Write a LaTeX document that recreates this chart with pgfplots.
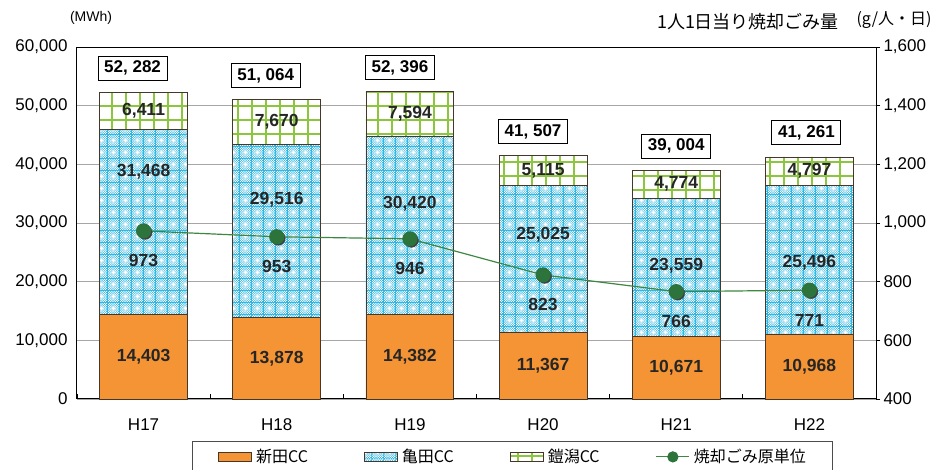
\documentclass[border=0pt]{standalone}
\usepackage{fontspec}
\setmainfont{Liberation Sans}
\newfontfamily\jp{Noto Sans CJK JP}
\usepackage{pgfplots}
\pgfplotsset{compat=1.18}
\usetikzlibrary{patterns,patterns.meta}

\definecolor{shinden}{RGB}{245,148,52}
\definecolor{kameda}{RGB}{35,180,228}
\definecolor{yoroi}{RGB}{140,198,63}
\definecolor{gline}{RGB}{60,135,65}
\definecolor{gmark}{RGB}{45,115,60}
\definecolor{edge}{RGB}{70,55,45}

% fine checker with small crosses
\pgfdeclarepatternformonly{checkcross}{\pgfpointorigin}{\pgfqpoint{12pt}{12pt}}{\pgfqpoint{12pt}{12pt}}{%
  \foreach \i in {0,1,2,3,4}{\foreach \j in {0,1,2,3,4}{%
    \pgfpathrectangle{\pgfpoint{\i*2.4pt}{\j*2.4pt}}{\pgfqpoint{1.2pt}{1.2pt}}%
    \pgfpathrectangle{\pgfpoint{\i*2.4pt+1.2pt}{\j*2.4pt+1.2pt}}{\pgfqpoint{1.2pt}{1.2pt}}%
  }}%
  \pgfpathrectangle{\pgfqpoint{4.2pt}{5.4pt}}{\pgfqpoint{3.6pt}{1.2pt}}%
  \pgfpathrectangle{\pgfqpoint{5.4pt}{4.2pt}}{\pgfqpoint{1.2pt}{3.6pt}}%
  \pgfusepath{fill}%
}

\pgfplotsset{
  barlegend/.style={legend image code/.code={\draw[##1] (0pt,-4.5pt) rectangle (33pt,4.5pt);}},
  linelegend/.style={legend image code/.code={\draw[##1, /tikz/sharp plot, mark repeat=2, mark phase=2]
    plot coordinates {(0pt,0pt) (16.5pt,0pt) (33pt,0pt)};}},
}

\newcommand{\fs}[1]{\fontsize{#1}{#1}\selectfont}

\begin{document}
\begin{tikzpicture}
% stacked electricity (MWh) per plant
\begin{axis}[
  name=ax, at={(0,0)}, anchor=south west,
  scale only axis, width=799pt, height=352pt,
  ybar stacked, bar width=0.66,
  xmin=-0.5, xmax=5.5, ymin=0, ymax=60000,
  xtick={0,...,5}, xticklabels={H17,H18,H19,H20,H21,H22},
  minor xtick={-0.5,0.5,...,5.5}, minor tick length=5pt,
  tick align=inside, xtick pos=left,
  major x tick style={draw=none},
  minor x tick style={black, line width=0.8pt},
  ytick={0,10000,...,60000}, ytick style={draw=none},
  scaled y ticks=false,
  /pgf/number format/fixed, /pgf/number format/1000 sep={,},
  /pgf/number format/assume math mode=true,
  tick label style={font=\fs{17}},
  xticklabel style={yshift=-16pt},
  yticklabel style={xshift=-6pt},
  ymajorgrids, major grid style={draw=gray!70, line width=0.9pt},
  axis line style={black, line width=1pt},
  legend columns=4,
  legend style={at={(axis description cs:0.1439,-0.1193)}, anchor=north west,
    draw=gray!60!black, line width=0.8pt, font=\jp\fs{16},
    inner xsep=26pt, inner ysep=6pt},
  legend cell align=left,
  clip=false,
]
\addplot[fill=shinden, draw=edge, line width=0.8pt, barlegend]
  coordinates {(0,14403) (1,13878) (2,14382) (3,11367) (4,10671) (5,10968)};
\addlegendentry{\makebox[108pt][l]{\hspace{2pt}新田CC}}
\addplot[fill=kameda, draw=edge, line width=0.8pt,
  postaction={pattern=checkcross, pattern color=white}, barlegend]
  coordinates {(0,31468) (1,29516) (2,30420) (3,25025) (4,23559) (5,25496)};
\addlegendentry{\makebox[108pt][l]{\hspace{2pt}亀田CC}}
\addplot[fill=white, draw=edge, line width=0.8pt,
  postaction={pattern={Hatch[distance=14pt,line width=2pt]}, pattern color=yoroi}, barlegend]
  coordinates {(0,6411) (1,7670) (2,7594) (3,5115) (4,4774) (5,4797)};
\addlegendentry{\makebox[108pt][l]{\hspace{2pt}鎧潟CC}}
\addlegendimage{gline, line width=1.2pt, mark=*, mark size=5pt,
  mark options={fill=gmark, draw=gmark}, linelegend}
\addlegendentry{\makebox[112pt][l]{\hspace{2pt}焼却ごみ原単位}}

% anchor points for the segment labels
\coordinate (s0) at (axis cs:0,7201);
\coordinate (s1) at (axis cs:1,6939);
\coordinate (s2) at (axis cs:2,7191);
\coordinate (s3) at (axis cs:3,5683);
\coordinate (s4) at (axis cs:4,5335);
\coordinate (s5) at (axis cs:5,5484);
\coordinate (k0) at (axis cs:0,38690);
\coordinate (k1) at (axis cs:1,33920);
\coordinate (k2) at (axis cs:2,33240);
\coordinate (k3) at (axis cs:3,27950);
\coordinate (k4) at (axis cs:4,22670);
\coordinate (k5) at (axis cs:5,23180);
\coordinate (y0) at (axis cs:0,49076);
\coordinate (y1) at (axis cs:1,47229);
\coordinate (y2) at (axis cs:2,48599);
\coordinate (y3) at (axis cs:3,38950);
\coordinate (y4) at (axis cs:4,36617);
\coordinate (y5) at (axis cs:5,38862);
% totals
\tikzset{tot/.style={font=\bfseries\fs{17}, draw=black, line width=1pt, fill=white,
  minimum width=69pt, minimum height=24pt, inner sep=2pt, yshift=24pt}}
\node[tot, xshift=-11pt] at (axis cs:0,52282) {52, 282};
\node[tot, xshift=-11pt] at (axis cs:1,51064) {51, 064};
\node[tot, xshift=-10pt] at (axis cs:2,52396) {52, 396};
\node[tot, xshift=-10pt] at (axis cs:3,41507) {41, 507};
\node[tot] at (axis cs:4,39004) {39, 004};
\node[tot, xshift=-3pt] at (axis cs:5,41261) {41, 261};
\end{axis}

% incinerated waste per person per day (g)
\begin{axis}[
  at={(0,0)}, anchor=south west,
  scale only axis, width=799pt, height=352pt,
  xmin=-0.5, xmax=5.5, ymin=400, ymax=1600,
  axis x line=none, axis y line*=right,
  ytick={400,600,...,1600},
  tick align=outside, major tick length=4pt,
  ytick style={black, line width=0.8pt},
  /pgf/number format/fixed, /pgf/number format/1000 sep={,},
  /pgf/number format/assume math mode=true,
  tick label style={font=\fs{17}},
  axis line style={black, line width=1pt},
  clip=false,
]
\addplot[only marks, mark=*, mark size=7pt, black!75,
  every mark/.append style={xshift=1.5pt, yshift=-1.5pt}]
  coordinates {(0,973) (1,953) (2,946) (3,823) (4,766) (5,771)};
\addplot[gline, line width=1.2pt, mark=*, mark size=7pt,
  mark options={fill=gmark, draw=gmark}]
  coordinates {(0,973) (1,953) (2,946) (3,823) (4,766) (5,771)};
\tikzset{lbl/.style={font=\bfseries\fs{17.5}, text=black!85, yshift=-30pt}}
\node[lbl] at (axis cs:0,973) {973};
\node[lbl] at (axis cs:1,953) {953};
\node[lbl] at (axis cs:2,946) {946};
\node[lbl] at (axis cs:3,823) {823};
\node[lbl] at (axis cs:4,766) {766};
\node[lbl] at (axis cs:5,771) {771};
\end{axis}

% segment labels on top of the bars
\tikzset{seg/.style={font=\bfseries\fs{17.5}, text=black!85}}
\node[seg] at (s0) {14,403};
\node[seg] at (s1) {13,878};
\node[seg] at (s2) {14,382};
\node[seg] at (s3) {11,367};
\node[seg] at (s4) {10,671};
\node[seg] at (s5) {10,968};
\node[seg] at (k0) {31,468};
\node[seg] at (k1) {29,516};
\node[seg] at (k2) {30,420};
\node[seg] at (k3) {25,025};
\node[seg] at (k4) {23,559};
\node[seg] at (k5) {25,496};
\node[seg] at (y0) {6,411};
\node[seg] at (y1) {7,670};
\node[seg] at (y2) {7,594};
\node[seg] at (y3) {5,115};
\node[seg] at (y4) {4,774};
\node[seg] at (y5) {4,797};

\node[font=\fs{14}] at (14pt,381pt) {(MWh)};
\node[font=\jp\fs{18}] at (671pt,377pt) {1人1日当り焼却ごみ量};
\node[font=\jp\fs{16}] at (817pt,379pt) {(g/人・日)};

\pgfresetboundingbox
\path (-77pt,-71pt) rectangle (861pt,399pt);
\end{tikzpicture}
\end{document}
